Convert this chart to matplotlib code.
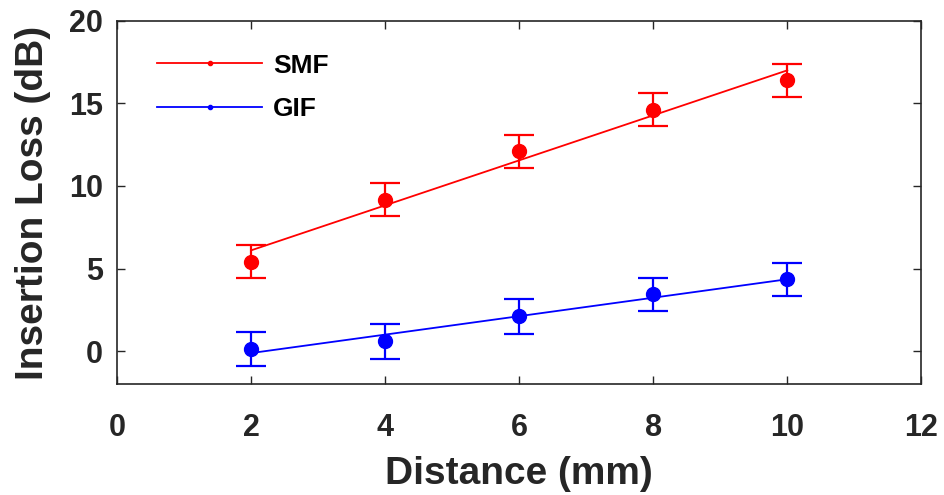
import matplotlib.pyplot as plt
from matplotlib.lines import Line2D

# Dane
distance = [2, 4, 6, 8, 10]
smf_loss = [5.4, 9.15, 12.1, 14.6, 16.4]
smf_err = [1.0, 1.0, 1.0, 1.0, 1.0]
gif_loss = [0.12, 0.6, 2.1, 3.45, 4.35]
gif_err = [1.05, 1.05, 1.05, 1.0, 1.0]

# Linie dopasowania (końce)
fit_x = [2, 10]
smf_fit = [6.1, 17.0]
gif_fit = [-0.12, 4.35]

plt.rcParams['font.family'] = ['Liberation Sans', 'DejaVu Sans']
plt.rcParams['font.weight'] = 'bold'

fig = plt.figure(figsize=(9.44, 4.95), dpi=100)
ax = fig.add_axes([0.124, 0.224, 0.852, 0.734])

ax.plot(fit_x, smf_fit, color='red', linewidth=1.3)
ax.plot(fit_x, gif_fit, color='blue', linewidth=1.3)
ax.errorbar(distance, smf_loss, yerr=smf_err, fmt='o', color='red', markersize=10,
            elinewidth=1.6, capsize=11, capthick=1.6)
ax.errorbar(distance, gif_loss, yerr=gif_err, fmt='o', color='blue', markersize=10,
            elinewidth=1.6, capsize=11, capthick=1.6)

ax.set_xlim(0, 12)
ax.set_ylim(-2, 20)
ax.set_xticks([0, 2, 4, 6, 8, 10, 12])
ax.set_yticks([0, 5, 10, 15, 20])

dark = '#262626'
for s in ax.spines.values():
    s.set_color(dark)
    s.set_linewidth(1.2)
ax.tick_params(direction='in', length=6, width=1.0, top=True, right=True,
               labelsize=22, colors=dark)
ax.tick_params(axis='x', pad=21)
ax.tick_params(axis='y', pad=10)
for lbl in ax.get_xticklabels() + ax.get_yticklabels():
    lbl.set_fontweight('bold')

ax.set_xlabel('Distance (mm)', fontsize=28, fontweight='bold', color=dark, labelpad=9)
ax.set_ylabel('Insertion Loss (dB)', fontsize=28, fontweight='bold', color=dark, labelpad=13)

handles = [Line2D([0], [0], color='red', marker='.', markersize=6, linewidth=1.3),
           Line2D([0], [0], color='blue', marker='.', markersize=6, linewidth=1.3)]
ax.legend(handles, ['SMF', 'GIF'], loc='upper left', frameon=False,
          handlelength=4.0, handletextpad=0.4, labelspacing=0.75,
          bbox_to_anchor=(0.02, 0.975), prop={'weight': 'bold', 'size': 19})

fig.savefig('out.png', dpi=100)
